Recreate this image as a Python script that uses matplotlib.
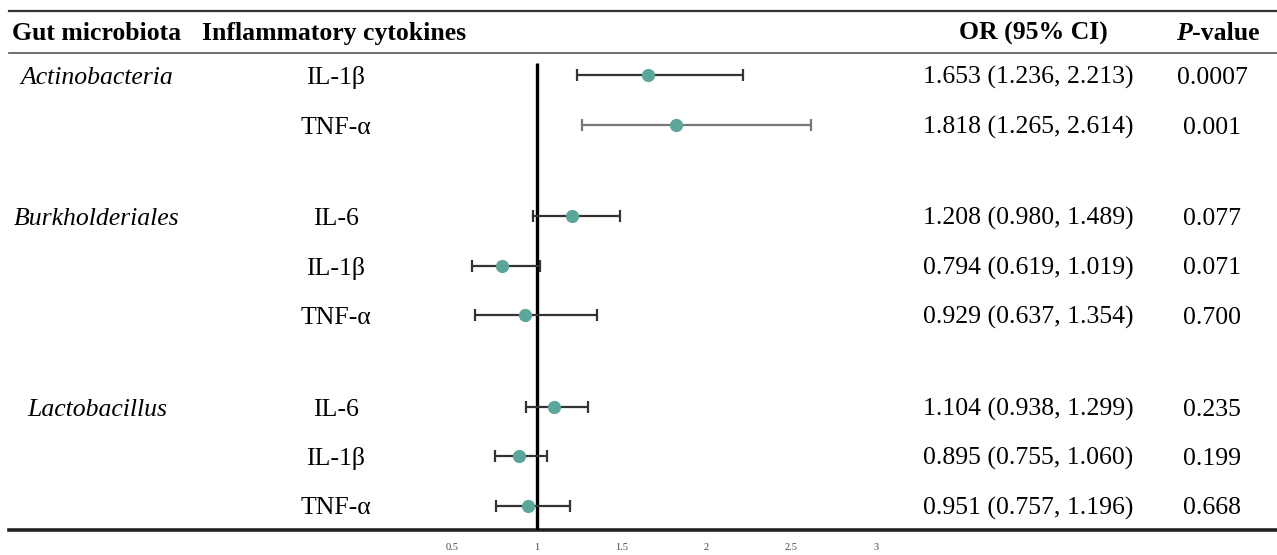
import matplotlib.pyplot as plt
import numpy as np

plt.rcParams['font.family'] = ['Liberation Serif', 'DejaVu Serif']

# table data
groups = ['Actinobacteria', 'Burkholderiales', 'Lactobacillus']
group_of_row = [0, 0, 1, 1, 1, 2, 2, 2]
cytokines = ['IL-1β', 'TNF-α', 'IL-6', 'IL-1β', 'TNF-α', 'IL-6', 'IL-1β', 'TNF-α']
or_vals = [1.653, 1.818, 1.208, 0.794, 0.929, 1.104, 0.895, 0.951]
ci_low = [1.236, 1.265, 0.980, 0.619, 0.637, 0.938, 0.755, 0.757]
ci_high = [2.213, 2.614, 1.489, 1.019, 1.354, 1.299, 1.060, 1.196]
p_vals = ['0.0007', '0.001', '0.077', '0.071', '0.700', '0.235', '0.199', '0.668']
xticks = [0.5, 1, 1.5, 2, 2.5, 3]

W, H = 1277, 555
fig = plt.figure(figsize=(W / 100, H / 100), dpi=100)

# background axes in pixel units for the table part
bg = fig.add_axes([0, 0, 1, 1])
bg.set_xlim(0, W)
bg.set_ylim(H, 0)
bg.axis('off')

# row positions (px from top)
idx = np.arange(len(or_vals))
row_y = 75 + 49.5 * idx + 42 * np.array(group_of_row)

fs = 18.5
# rules
bg.plot([9, W], [11, 11], color='#333333', lw=1.6)
bg.plot([9, W], [53, 53], color='#555555', lw=1.2)
bg.plot([9, W], [530, 530], color='#222222', lw=2.6)

# header
hy = 40
bg.text(97, hy, 'Gut microbiota', ha='center', va='baseline', fontsize=fs, fontweight='bold')
bg.text(334, hy, 'Inflammatory cytokines', ha='center', va='baseline', fontsize=fs, fontweight='bold')
bg.text(1033, hy, 'OR (95% CI)', ha='center', va='baseline', fontsize=fs, fontweight='bold')
bg.text(1192, hy, 'P', ha='right', va='baseline', fontsize=fs, fontweight='bold', fontstyle='italic')
bg.text(1192, hy, '-value', ha='left', va='baseline', fontsize=fs, fontweight='bold')

seen = set()
for i in idx:
    y = row_y[i] + 9
    g = group_of_row[i]
    if g not in seen:
        bg.text(97, y, groups[g], ha='center', va='baseline', fontsize=fs, fontstyle='italic')
        seen.add(g)
    bg.text(336, y, cytokines[i], ha='center', va='baseline', fontsize=fs)
    bg.text(1028, y, '%.3f (%.3f, %.3f)' % (or_vals[i], ci_low[i], ci_high[i]),
            ha='center', va='baseline', fontsize=fs)
    bg.text(1212, y, p_vals[i], ha='center', va='baseline', fontsize=fs)

# forest plot axes: x 452..876 px, y 53..530 px
ax = fig.add_axes([452 / W, (H - 530) / H, 424 / W, 477 / H])
ax.set_xlim(0.5, 3)
ax.set_ylim(530, 53)
ax.patch.set_alpha(0)
for s in ax.spines.values():
    s.set_visible(False)
ax.set_yticks([])
ax.set_xticks(xticks)
ax.set_xticklabels(['0.5', '1', '1.5', '2', '2.5', '3'])
ax.tick_params(axis='x', length=0, labelsize=7.5, pad=9, labelcolor='#444444')

ax.vlines(1, 530, 63, color='black', lw=2.4, zorder=1)

or_arr = np.array(or_vals)
err = [or_arr - np.array(ci_low), np.array(ci_high) - or_arr]
ecolors = ['#333333', '#777777'] + ['#333333'] * 6
for i in idx:
    ax.errorbar(or_arr[i], row_y[i], xerr=[[err[0][i]], [err[1][i]]], fmt='o',
                color='#5ba59a', ecolor=ecolors[i], elinewidth=1.6, capsize=4,
                capthick=1.6, markersize=8.5, zorder=3)

fig.savefig('out.png', dpi=100)
